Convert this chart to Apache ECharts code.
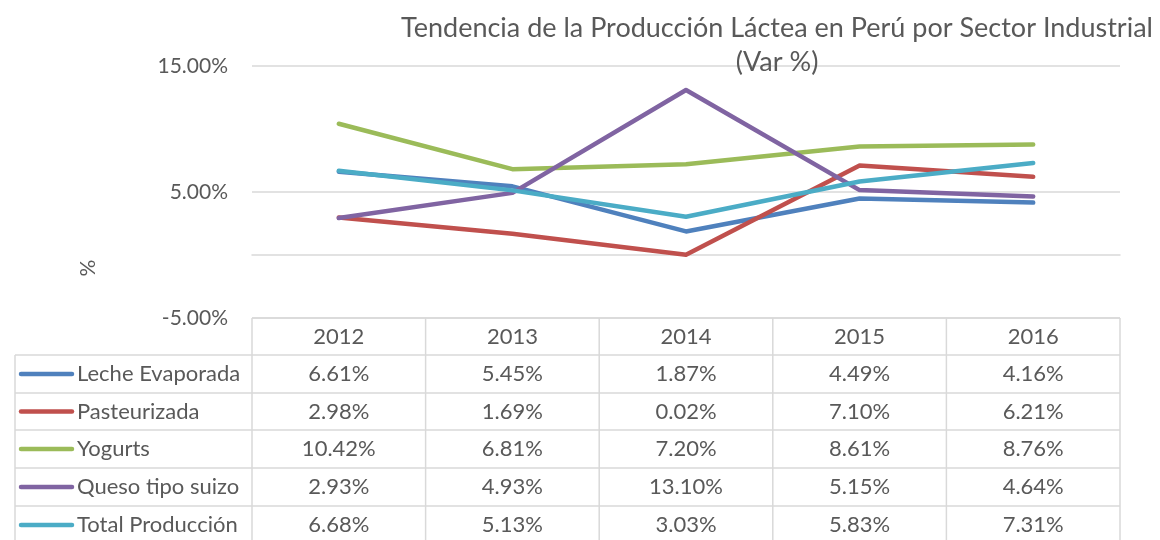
<!DOCTYPE html>
<html><head><meta charset="utf-8">
<script src="https://cdn.jsdelivr.net/npm/echarts@6/dist/echarts.min.js"></script>
<style>html,body{margin:0;padding:0;background:#fff}#c{width:1160px;height:540px}</style>
</head><body><div id="c"></div>
<script>
const titleText = 'Tendencia de la Producción Láctea en Perú por Sector Industrial\n(Var %)';
const axisTitle = '%';
const years = ['2012', '2013', '2014', '2015', '2016'];
const seriesNames = ['Leche Evaporada', 'Pasteurizada', 'Yogurts', 'Queso tipo suizo', 'Total Producción'];
const lecheEvaporada = [6.61, 5.45, 1.87, 4.49, 4.16];
const pasteurizada = [2.98, 1.69, 0.02, 7.10, 6.21];
const yogurts = [10.42, 6.81, 7.20, 8.61, 8.76];
const quesoSuizo = [2.93, 4.93, 13.10, 5.15, 4.64];
const totalProduccion = [6.68, 5.13, 3.03, 5.83, 7.31];
const seriesData = [lecheEvaporada, pasteurizada, yogurts, quesoSuizo, totalProduccion];
const colors = ['#4F81BD', '#C0504D', '#9BBB59', '#8064A2', '#4BACC6'];

const FONT = 'Lato';
const TXT = '#595959';
const LINE = '#D9D9D9';
const chart = echarts.init(document.getElementById('c'), null, {renderer: 'canvas'});

chart.setOption({
  animation: false,
  textStyle: {fontFamily: FONT},
  grid: {left: 252, right: 40, top: 66, bottom: 222},
  xAxis: {
    type: 'category', data: years, boundaryGap: true,
    axisLine: {onZero: true, lineStyle: {color: LINE, width: 1.5}},
    axisTick: {show: false}, axisLabel: {show: false}, splitLine: {show: false}
  },
  yAxis: {
    type: 'value', min: -5, max: 15, interval: 10,
    axisLine: {show: false}, axisTick: {show: false},
    splitLine: {lineStyle: {color: LINE, width: 1.5}},
    axisLabel: {formatter: v => v.toFixed(2) + '%', color: TXT, fontSize: 21, fontFamily: FONT, margin: 24}
  },
  series: seriesData.map((d, i) => ({
    name: seriesNames[i], type: 'line', data: d, symbol: 'none',
    lineStyle: {color: colors[i], width: 4.5, cap: 'round', join: 'round'},
    z: 3
  }))
});

// Data table below the plot
const rowTops = [318, 355, 393, 430, 468, 506, 544];
const tableLeft = 15;
const plotLeft = 252, plotRight = 1120;
const TF = '22px ' + FONT;
const g = [];
g.push({type: 'text', x: 777, y: 11, style: {text: titleText, fill: TXT, font: '27px ' + FONT, align: 'center', lineHeight: 34}});
g.push({type: 'text', x: 88, y: 268, rotation: Math.PI / 2, style: {text: axisTitle, fill: TXT, font: '21px ' + FONT, align: 'center', verticalAlign: 'middle'}});
const lineStyle = {stroke: LINE, lineWidth: 1.5};
g.push({type: 'line', shape: {x1: plotLeft, y1: rowTops[0], x2: plotRight, y2: rowTops[0]}, style: lineStyle});
for (let r = 1; r < rowTops.length - 1; r++) {
  g.push({type: 'line', shape: {x1: tableLeft, y1: rowTops[r], x2: plotRight, y2: rowTops[r]}, style: lineStyle});
}
g.push({type: 'line', shape: {x1: tableLeft, y1: rowTops[1], x2: tableLeft, y2: 540}, style: lineStyle});
const colW = (plotRight - plotLeft) / years.length;
for (let c = 0; c <= years.length; c++) {
  const x = plotLeft + c * colW;
  g.push({type: 'line', shape: {x1: x, y1: rowTops[0], x2: x, y2: 540}, style: lineStyle});
}
years.forEach((y) => {
  const cx = chart.convertToPixel({xAxisIndex: 0}, y);
  g.push({type: 'text', x: cx, y: (rowTops[0] + rowTops[1]) / 2, style: {text: y, fill: TXT, font: TF, align: 'center', verticalAlign: 'middle'}});
});
seriesNames.forEach((n, r) => {
  const cy = (rowTops[r + 1] + rowTops[r + 2]) / 2;
  g.push({type: 'line', shape: {x1: 21, y1: cy, x2: 72, y2: cy}, style: {stroke: colors[r], lineWidth: 4.5, lineCap: 'round'}});
  g.push({type: 'text', x: 77, y: cy, style: {text: n, fill: TXT, font: TF, align: 'left', verticalAlign: 'middle'}});
  seriesData[r].forEach((v, c) => {
    const cx = chart.convertToPixel({xAxisIndex: 0}, years[c]);
    g.push({type: 'text', x: cx, y: cy, style: {text: v.toFixed(2) + '%', fill: TXT, font: TF, align: 'center', verticalAlign: 'middle'}});
  });
});
chart.setOption({graphic: {elements: g}});
</script></body></html>
